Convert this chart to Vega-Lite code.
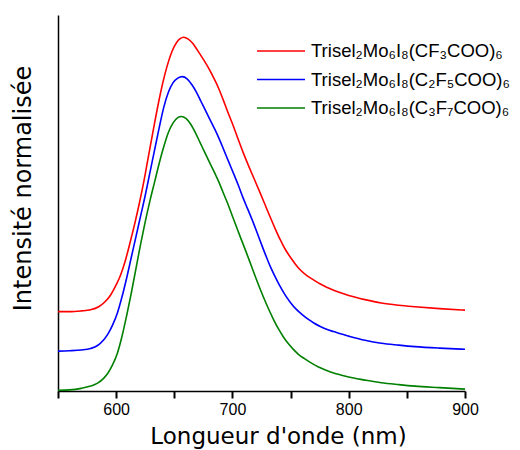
{
  "$schema": "https://vega.github.io/schema/vega-lite/v6.json",
  "autosize": "none",
  "width": 407,
  "height": 376,
  "padding": {"left": 58, "top": 15, "right": 55, "bottom": 59},
  "background": "white",
  "config": {"view": {"stroke": null}},
  "data": {"values": [
    {"s":"Trisel₂Mo₆I₈(CF₃COO)₆","wl":550,"v":0.211},{"s":"Trisel₂Mo₆I₈(CF₃COO)₆","wl":560,"v":0.211},{"s":"Trisel₂Mo₆I₈(CF₃COO)₆","wl":570,"v":0.213},{"s":"Trisel₂Mo₆I₈(CF₃COO)₆","wl":578,"v":0.216},{"s":"Trisel₂Mo₆I₈(CF₃COO)₆","wl":585,"v":0.224},{"s":"Trisel₂Mo₆I₈(CF₃COO)₆","wl":590,"v":0.236},{"s":"Trisel₂Mo₆I₈(CF₃COO)₆","wl":595,"v":0.254},{"s":"Trisel₂Mo₆I₈(CF₃COO)₆","wl":600,"v":0.282},{"s":"Trisel₂Mo₆I₈(CF₃COO)₆","wl":604,"v":0.31},{"s":"Trisel₂Mo₆I₈(CF₃COO)₆","wl":608,"v":0.348},{"s":"Trisel₂Mo₆I₈(CF₃COO)₆","wl":612,"v":0.395},{"s":"Trisel₂Mo₆I₈(CF₃COO)₆","wl":616,"v":0.445},{"s":"Trisel₂Mo₆I₈(CF₃COO)₆","wl":620,"v":0.5},{"s":"Trisel₂Mo₆I₈(CF₃COO)₆","wl":624,"v":0.56},{"s":"Trisel₂Mo₆I₈(CF₃COO)₆","wl":628,"v":0.628},{"s":"Trisel₂Mo₆I₈(CF₃COO)₆","wl":632,"v":0.695},{"s":"Trisel₂Mo₆I₈(CF₃COO)₆","wl":636,"v":0.76},{"s":"Trisel₂Mo₆I₈(CF₃COO)₆","wl":640,"v":0.818},{"s":"Trisel₂Mo₆I₈(CF₃COO)₆","wl":644,"v":0.866},{"s":"Trisel₂Mo₆I₈(CF₃COO)₆","wl":648,"v":0.903},{"s":"Trisel₂Mo₆I₈(CF₃COO)₆","wl":652,"v":0.927},{"s":"Trisel₂Mo₆I₈(CF₃COO)₆","wl":655,"v":0.937},{"s":"Trisel₂Mo₆I₈(CF₃COO)₆","wl":658,"v":0.941},{"s":"Trisel₂Mo₆I₈(CF₃COO)₆","wl":662,"v":0.936},{"s":"Trisel₂Mo₆I₈(CF₃COO)₆","wl":666,"v":0.924},{"s":"Trisel₂Mo₆I₈(CF₃COO)₆","wl":670,"v":0.906},{"s":"Trisel₂Mo₆I₈(CF₃COO)₆","wl":675,"v":0.882},{"s":"Trisel₂Mo₆I₈(CF₃COO)₆","wl":680,"v":0.856},{"s":"Trisel₂Mo₆I₈(CF₃COO)₆","wl":684,"v":0.832},{"s":"Trisel₂Mo₆I₈(CF₃COO)₆","wl":688,"v":0.806},{"s":"Trisel₂Mo₆I₈(CF₃COO)₆","wl":692,"v":0.775},{"s":"Trisel₂Mo₆I₈(CF₃COO)₆","wl":696,"v":0.742},{"s":"Trisel₂Mo₆I₈(CF₃COO)₆","wl":701,"v":0.703},{"s":"Trisel₂Mo₆I₈(CF₃COO)₆","wl":705,"v":0.669},{"s":"Trisel₂Mo₆I₈(CF₃COO)₆","wl":709,"v":0.636},{"s":"Trisel₂Mo₆I₈(CF₃COO)₆","wl":714,"v":0.598},{"s":"Trisel₂Mo₆I₈(CF₃COO)₆","wl":718,"v":0.569},{"s":"Trisel₂Mo₆I₈(CF₃COO)₆","wl":723,"v":0.533},{"s":"Trisel₂Mo₆I₈(CF₃COO)₆","wl":728,"v":0.496},{"s":"Trisel₂Mo₆I₈(CF₃COO)₆","wl":732,"v":0.466},{"s":"Trisel₂Mo₆I₈(CF₃COO)₆","wl":737,"v":0.43},{"s":"Trisel₂Mo₆I₈(CF₃COO)₆","wl":741,"v":0.403},{"s":"Trisel₂Mo₆I₈(CF₃COO)₆","wl":745,"v":0.379},{"s":"Trisel₂Mo₆I₈(CF₃COO)₆","wl":750,"v":0.355},{"s":"Trisel₂Mo₆I₈(CF₃COO)₆","wl":754,"v":0.338},{"s":"Trisel₂Mo₆I₈(CF₃COO)₆","wl":758,"v":0.323},{"s":"Trisel₂Mo₆I₈(CF₃COO)₆","wl":764,"v":0.307},{"s":"Trisel₂Mo₆I₈(CF₃COO)₆","wl":770,"v":0.295},{"s":"Trisel₂Mo₆I₈(CF₃COO)₆","wl":776,"v":0.284},{"s":"Trisel₂Mo₆I₈(CF₃COO)₆","wl":781,"v":0.276},{"s":"Trisel₂Mo₆I₈(CF₃COO)₆","wl":787,"v":0.268},{"s":"Trisel₂Mo₆I₈(CF₃COO)₆","wl":793,"v":0.261},{"s":"Trisel₂Mo₆I₈(CF₃COO)₆","wl":800,"v":0.254},{"s":"Trisel₂Mo₆I₈(CF₃COO)₆","wl":814,"v":0.243},{"s":"Trisel₂Mo₆I₈(CF₃COO)₆","wl":828,"v":0.234},{"s":"Trisel₂Mo₆I₈(CF₃COO)₆","wl":843,"v":0.228},{"s":"Trisel₂Mo₆I₈(CF₃COO)₆","wl":857,"v":0.224},{"s":"Trisel₂Mo₆I₈(CF₃COO)₆","wl":878,"v":0.219},{"s":"Trisel₂Mo₆I₈(CF₃COO)₆","wl":900,"v":0.215},
    {"s":"Trisel₂Mo₆I₈(C₂F₅COO)₆","wl":550,"v":0.106},{"s":"Trisel₂Mo₆I₈(C₂F₅COO)₆","wl":560,"v":0.107},{"s":"Trisel₂Mo₆I₈(C₂F₅COO)₆","wl":570,"v":0.109},{"s":"Trisel₂Mo₆I₈(C₂F₅COO)₆","wl":578,"v":0.113},{"s":"Trisel₂Mo₆I₈(C₂F₅COO)₆","wl":584,"v":0.121},{"s":"Trisel₂Mo₆I₈(C₂F₅COO)₆","wl":589,"v":0.135},{"s":"Trisel₂Mo₆I₈(C₂F₅COO)₆","wl":593,"v":0.152},{"s":"Trisel₂Mo₆I₈(C₂F₅COO)₆","wl":597,"v":0.176},{"s":"Trisel₂Mo₆I₈(C₂F₅COO)₆","wl":601,"v":0.207},{"s":"Trisel₂Mo₆I₈(C₂F₅COO)₆","wl":605,"v":0.25},{"s":"Trisel₂Mo₆I₈(C₂F₅COO)₆","wl":609,"v":0.3},{"s":"Trisel₂Mo₆I₈(C₂F₅COO)₆","wl":613,"v":0.355},{"s":"Trisel₂Mo₆I₈(C₂F₅COO)₆","wl":617,"v":0.41},{"s":"Trisel₂Mo₆I₈(C₂F₅COO)₆","wl":621,"v":0.465},{"s":"Trisel₂Mo₆I₈(C₂F₅COO)₆","wl":625,"v":0.52},{"s":"Trisel₂Mo₆I₈(C₂F₅COO)₆","wl":629,"v":0.58},{"s":"Trisel₂Mo₆I₈(C₂F₅COO)₆","wl":633,"v":0.64},{"s":"Trisel₂Mo₆I₈(C₂F₅COO)₆","wl":637,"v":0.7},{"s":"Trisel₂Mo₆I₈(C₂F₅COO)₆","wl":641,"v":0.755},{"s":"Trisel₂Mo₆I₈(C₂F₅COO)₆","wl":645,"v":0.795},{"s":"Trisel₂Mo₆I₈(C₂F₅COO)₆","wl":649,"v":0.82},{"s":"Trisel₂Mo₆I₈(C₂F₅COO)₆","wl":653,"v":0.832},{"s":"Trisel₂Mo₆I₈(C₂F₅COO)₆","wl":657,"v":0.836},{"s":"Trisel₂Mo₆I₈(C₂F₅COO)₆","wl":661,"v":0.83},{"s":"Trisel₂Mo₆I₈(C₂F₅COO)₆","wl":665,"v":0.815},{"s":"Trisel₂Mo₆I₈(C₂F₅COO)₆","wl":669,"v":0.795},{"s":"Trisel₂Mo₆I₈(C₂F₅COO)₆","wl":673,"v":0.77},{"s":"Trisel₂Mo₆I₈(C₂F₅COO)₆","wl":677,"v":0.745},{"s":"Trisel₂Mo₆I₈(C₂F₅COO)₆","wl":681,"v":0.72},{"s":"Trisel₂Mo₆I₈(C₂F₅COO)₆","wl":685,"v":0.695},{"s":"Trisel₂Mo₆I₈(C₂F₅COO)₆","wl":689,"v":0.668},{"s":"Trisel₂Mo₆I₈(C₂F₅COO)₆","wl":693,"v":0.638},{"s":"Trisel₂Mo₆I₈(C₂F₅COO)₆","wl":697,"v":0.608},{"s":"Trisel₂Mo₆I₈(C₂F₅COO)₆","wl":701,"v":0.578},{"s":"Trisel₂Mo₆I₈(C₂F₅COO)₆","wl":705,"v":0.548},{"s":"Trisel₂Mo₆I₈(C₂F₅COO)₆","wl":709,"v":0.515},{"s":"Trisel₂Mo₆I₈(C₂F₅COO)₆","wl":713,"v":0.485},{"s":"Trisel₂Mo₆I₈(C₂F₅COO)₆","wl":717,"v":0.455},{"s":"Trisel₂Mo₆I₈(C₂F₅COO)₆","wl":721,"v":0.423},{"s":"Trisel₂Mo₆I₈(C₂F₅COO)₆","wl":725,"v":0.39},{"s":"Trisel₂Mo₆I₈(C₂F₅COO)₆","wl":729,"v":0.358},{"s":"Trisel₂Mo₆I₈(C₂F₅COO)₆","wl":733,"v":0.328},{"s":"Trisel₂Mo₆I₈(C₂F₅COO)₆","wl":737,"v":0.302},{"s":"Trisel₂Mo₆I₈(C₂F₅COO)₆","wl":741,"v":0.278},{"s":"Trisel₂Mo₆I₈(C₂F₅COO)₆","wl":745,"v":0.257},{"s":"Trisel₂Mo₆I₈(C₂F₅COO)₆","wl":750,"v":0.235},{"s":"Trisel₂Mo₆I₈(C₂F₅COO)₆","wl":755,"v":0.217},{"s":"Trisel₂Mo₆I₈(C₂F₅COO)₆","wl":760,"v":0.203},{"s":"Trisel₂Mo₆I₈(C₂F₅COO)₆","wl":765,"v":0.191},{"s":"Trisel₂Mo₆I₈(C₂F₅COO)₆","wl":770,"v":0.181},{"s":"Trisel₂Mo₆I₈(C₂F₅COO)₆","wl":776,"v":0.171},{"s":"Trisel₂Mo₆I₈(C₂F₅COO)₆","wl":781,"v":0.164},{"s":"Trisel₂Mo₆I₈(C₂F₅COO)₆","wl":787,"v":0.158},{"s":"Trisel₂Mo₆I₈(C₂F₅COO)₆","wl":793,"v":0.152},{"s":"Trisel₂Mo₆I₈(C₂F₅COO)₆","wl":800,"v":0.146},{"s":"Trisel₂Mo₆I₈(C₂F₅COO)₆","wl":814,"v":0.135},{"s":"Trisel₂Mo₆I₈(C₂F₅COO)₆","wl":828,"v":0.127},{"s":"Trisel₂Mo₆I₈(C₂F₅COO)₆","wl":843,"v":0.122},{"s":"Trisel₂Mo₆I₈(C₂F₅COO)₆","wl":857,"v":0.118},{"s":"Trisel₂Mo₆I₈(C₂F₅COO)₆","wl":878,"v":0.114},{"s":"Trisel₂Mo₆I₈(C₂F₅COO)₆","wl":900,"v":0.111},
    {"s":"Trisel₂Mo₆I₈(C₃F₇COO)₆","wl":550,"v":0.002},{"s":"Trisel₂Mo₆I₈(C₃F₇COO)₆","wl":560,"v":0.003},{"s":"Trisel₂Mo₆I₈(C₃F₇COO)₆","wl":570,"v":0.007},{"s":"Trisel₂Mo₆I₈(C₃F₇COO)₆","wl":578,"v":0.013},{"s":"Trisel₂Mo₆I₈(C₃F₇COO)₆","wl":584,"v":0.021},{"s":"Trisel₂Mo₆I₈(C₃F₇COO)₆","wl":589,"v":0.033},{"s":"Trisel₂Mo₆I₈(C₃F₇COO)₆","wl":593,"v":0.048},{"s":"Trisel₂Mo₆I₈(C₃F₇COO)₆","wl":597,"v":0.07},{"s":"Trisel₂Mo₆I₈(C₃F₇COO)₆","wl":601,"v":0.1},{"s":"Trisel₂Mo₆I₈(C₃F₇COO)₆","wl":605,"v":0.145},{"s":"Trisel₂Mo₆I₈(C₃F₇COO)₆","wl":609,"v":0.2},{"s":"Trisel₂Mo₆I₈(C₃F₇COO)₆","wl":613,"v":0.26},{"s":"Trisel₂Mo₆I₈(C₃F₇COO)₆","wl":617,"v":0.325},{"s":"Trisel₂Mo₆I₈(C₃F₇COO)₆","wl":621,"v":0.39},{"s":"Trisel₂Mo₆I₈(C₃F₇COO)₆","wl":625,"v":0.45},{"s":"Trisel₂Mo₆I₈(C₃F₇COO)₆","wl":629,"v":0.505},{"s":"Trisel₂Mo₆I₈(C₃F₇COO)₆","wl":633,"v":0.555},{"s":"Trisel₂Mo₆I₈(C₃F₇COO)₆","wl":637,"v":0.605},{"s":"Trisel₂Mo₆I₈(C₃F₇COO)₆","wl":641,"v":0.65},{"s":"Trisel₂Mo₆I₈(C₃F₇COO)₆","wl":645,"v":0.688},{"s":"Trisel₂Mo₆I₈(C₃F₇COO)₆","wl":649,"v":0.713},{"s":"Trisel₂Mo₆I₈(C₃F₇COO)₆","wl":653,"v":0.727},{"s":"Trisel₂Mo₆I₈(C₃F₇COO)₆","wl":656,"v":0.73},{"s":"Trisel₂Mo₆I₈(C₃F₇COO)₆","wl":660,"v":0.725},{"s":"Trisel₂Mo₆I₈(C₃F₇COO)₆","wl":664,"v":0.71},{"s":"Trisel₂Mo₆I₈(C₃F₇COO)₆","wl":668,"v":0.688},{"s":"Trisel₂Mo₆I₈(C₃F₇COO)₆","wl":672,"v":0.662},{"s":"Trisel₂Mo₆I₈(C₃F₇COO)₆","wl":676,"v":0.636},{"s":"Trisel₂Mo₆I₈(C₃F₇COO)₆","wl":680,"v":0.61},{"s":"Trisel₂Mo₆I₈(C₃F₇COO)₆","wl":684,"v":0.585},{"s":"Trisel₂Mo₆I₈(C₃F₇COO)₆","wl":688,"v":0.558},{"s":"Trisel₂Mo₆I₈(C₃F₇COO)₆","wl":692,"v":0.528},{"s":"Trisel₂Mo₆I₈(C₃F₇COO)₆","wl":696,"v":0.498},{"s":"Trisel₂Mo₆I₈(C₃F₇COO)₆","wl":700,"v":0.465},{"s":"Trisel₂Mo₆I₈(C₃F₇COO)₆","wl":704,"v":0.432},{"s":"Trisel₂Mo₆I₈(C₃F₇COO)₆","wl":708,"v":0.4},{"s":"Trisel₂Mo₆I₈(C₃F₇COO)₆","wl":712,"v":0.368},{"s":"Trisel₂Mo₆I₈(C₃F₇COO)₆","wl":716,"v":0.335},{"s":"Trisel₂Mo₆I₈(C₃F₇COO)₆","wl":720,"v":0.302},{"s":"Trisel₂Mo₆I₈(C₃F₇COO)₆","wl":724,"v":0.27},{"s":"Trisel₂Mo₆I₈(C₃F₇COO)₆","wl":728,"v":0.24},{"s":"Trisel₂Mo₆I₈(C₃F₇COO)₆","wl":732,"v":0.212},{"s":"Trisel₂Mo₆I₈(C₃F₇COO)₆","wl":736,"v":0.186},{"s":"Trisel₂Mo₆I₈(C₃F₇COO)₆","wl":740,"v":0.163},{"s":"Trisel₂Mo₆I₈(C₃F₇COO)₆","wl":744,"v":0.143},{"s":"Trisel₂Mo₆I₈(C₃F₇COO)₆","wl":748,"v":0.126},{"s":"Trisel₂Mo₆I₈(C₃F₇COO)₆","wl":752,"v":0.112},{"s":"Trisel₂Mo₆I₈(C₃F₇COO)₆","wl":757,"v":0.097},{"s":"Trisel₂Mo₆I₈(C₃F₇COO)₆","wl":762,"v":0.086},{"s":"Trisel₂Mo₆I₈(C₃F₇COO)₆","wl":768,"v":0.074},{"s":"Trisel₂Mo₆I₈(C₃F₇COO)₆","wl":774,"v":0.064},{"s":"Trisel₂Mo₆I₈(C₃F₇COO)₆","wl":780,"v":0.056},{"s":"Trisel₂Mo₆I₈(C₃F₇COO)₆","wl":787,"v":0.048},{"s":"Trisel₂Mo₆I₈(C₃F₇COO)₆","wl":794,"v":0.042},{"s":"Trisel₂Mo₆I₈(C₃F₇COO)₆","wl":800,"v":0.037},{"s":"Trisel₂Mo₆I₈(C₃F₇COO)₆","wl":814,"v":0.029},{"s":"Trisel₂Mo₆I₈(C₃F₇COO)₆","wl":828,"v":0.022},{"s":"Trisel₂Mo₆I₈(C₃F₇COO)₆","wl":843,"v":0.017},{"s":"Trisel₂Mo₆I₈(C₃F₇COO)₆","wl":857,"v":0.013},{"s":"Trisel₂Mo₆I₈(C₃F₇COO)₆","wl":878,"v":0.009},{"s":"Trisel₂Mo₆I₈(C₃F₇COO)₆","wl":900,"v":0.005}
  ]},
  "mark": {"type": "line", "strokeWidth": 1.6, "interpolate": "monotone"},
  "encoding": {
    "x": {
      "field": "wl", "type": "quantitative",
      "scale": {"domain": [550, 900], "nice": false, "zero": false},
      "axis": {
        "title": "Longueur d'onde (nm)",
        "values": [550, 600, 650, 700, 750, 800, 850, 900],
        "labelExpr": "datum.value % 100 === 0 ? datum.label : ''",
        "ticks": true, "tickSize": 7, "tickWidth": 2, "tickColor": "#000000", "tickOpacity": 1,
        "grid": false,
        "domainColor": "black", "domainWidth": 1.5,
        "labelFont": "Liberation Sans", "labelFontSize": 16, "labelColor": "black",
        "labelPadding": 3, "labelFlush": false,
        "titleFont": "DejaVu Sans", "titleFontSize": 23, "titleFontWeight": "normal", "titleColor": "black",
        "titlePadding": 8, "titleX": 220
      }
    },
    "y": {
      "field": "v", "type": "quantitative",
      "scale": {"domain": [0, 1], "nice": false},
      "axis": {
        "title": "Intensité normalisée",
        "ticks": false, "labels": false, "grid": false,
        "domainColor": "black", "domainWidth": 1.5,
        "titleFont": "DejaVu Sans", "titleFontSize": 24, "titleFontWeight": "normal", "titleColor": "black",
        "titlePadding": 23, "titleY": 173
      }
    },
    "color": {
      "field": "s", "type": "nominal",
      "scale": {
        "domain": ["Trisel₂Mo₆I₈(CF₃COO)₆", "Trisel₂Mo₆I₈(C₂F₅COO)₆", "Trisel₂Mo₆I₈(C₃F₇COO)₆"],
        "range": ["#ff0000", "#0000ff", "#008000"]
      },
      "legend": {
        "title": null,
        "orient": "none", "legendX": 207, "legendY": 20,
        "symbolType": "M-1.6,0L1.6,0", "symbolSize": 900, "symbolStrokeWidth": 1.6,
        "labelFont": "Liberation Sans", "labelFontSize": 18.5, "labelColor": "black",
        "labelOffset": 14, "rowPadding": 2.5, "labelLimit": 0
      }
    }
  }
}
